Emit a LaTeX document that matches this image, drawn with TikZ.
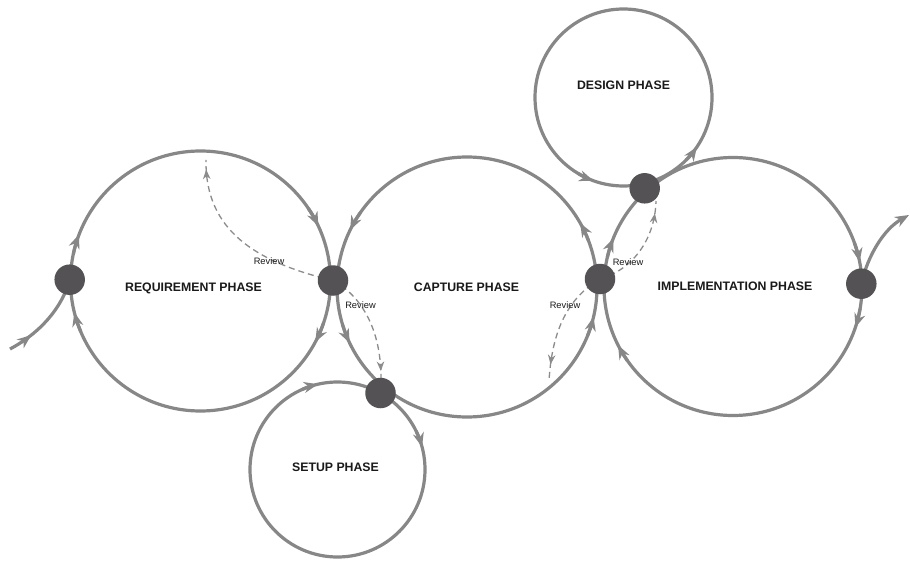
\documentclass[tikz,border=0pt]{standalone}
\usepackage{fontspec}
\setmainfont{Liberation Sans}
\usetikzlibrary{arrows.meta,decorations.markings,backgrounds}
\definecolor{ringgray}{HTML}{878787}
\definecolor{hubgray}{HTML}{545254}
\definecolor{dashgray}{HTML}{8C8C8C}
\definecolor{inkgray}{HTML}{1A1A1A}

\tikzset{
  ring/.style={draw=ringgray, line width=3.2pt},
  flowtip/.style={ring, -{Stealth[length=14pt,width=11pt,inset=4.5pt]}},
  hub/.style={circle, fill=hubgray, minimum size=30.5pt, inner sep=0pt},
  phase/.style={font=\bfseries\fontsize{12.3pt}{14pt}\selectfont, text=inkgray, inner sep=0pt},
  review/.style={draw=dashgray, line width=1.3pt, dash pattern=on 6pt off 4pt},
  revmark/.style={postaction=decorate, decoration={markings,
      mark=at position #1 with {\arrow{Stealth[length=9.5pt,width=7.5pt,inset=3pt]}}}},
  flowmark/.style={postaction=decorate, decoration={markings,
      mark=at position #1 with {\arrow{Stealth[length=14pt,width=11pt,inset=4.5pt]}}}},
  revlabel/.style={font=\fontsize{9.3pt}{11pt}\selectfont, text=inkgray, inner sep=0pt}
}
% short arc along a ring ending in a direction arrow: centre, radius, from angle, to angle
\newcommand\flowarc[4]{\draw[flowtip] ([shift={(#3:#2)}]#1) arc[start angle=#3, end angle=#4, radius=#2];}

\begin{document}
\begin{tikzpicture}[x=1pt,y=-1pt]
\useasboundingbox (0,0) rectangle (910,564);

% ring centres
\coordinate (cReq) at (200.5,281);
\coordinate (cCap) at (467,287);
\coordinate (cImp) at (733,286.5);
\coordinate (cDes) at (623.5,97.5);
\coordinate (cSet) at (337.5,469.5);

% junction hubs
\node[hub] (h1) at (69.7,279.7) {};
\node[hub] (h2) at (333,280.5) {};
\node[hub] (h3) at (380.5,393) {};
\node[hub] (h4) at (600,279) {};
\node[hub] (h5) at (644.7,188.3) {};
\node[hub] (h6) at (861.3,283.7) {};

% free ends
\coordinate (inStart) at (10,349);
\coordinate (outEnd) at (909,215);
\coordinate (rv1) at (206,160);
\coordinate (rv3) at (549,381);
\coordinate (rv4) at (656,201);

\begin{pgfonlayer}{background}
  \fill[white] (0,0) rectangle (910,564);

  % phase rings
  \draw[ring] (cReq) circle[radius=130];
  \draw[ring] (cCap) circle[radius=130];
  \draw[ring] (cImp) circle[radius=129];
  \draw[ring] (cDes) circle[radius=88.5];
  \draw[ring] (cSet) circle[radius=87.5];

  % flow direction on the rings
  \flowarc{cReq}{130}{192}{201}
  \flowarc{cReq}{130}{326}{335}
  \flowarc{cReq}{130}{19}{28}
  \flowarc{cReq}{130}{157}{166}

  \flowarc{cCap}{130}{215}{206}
  \flowarc{cCap}{130}{163}{154.5}
  \flowarc{cCap}{130}{22}{13.3}
  \flowarc{cCap}{130}{339}{330.5}

  \flowarc{cImp}{129}{193}{202}
  \flowarc{cImp}{129}{145}{153}
  \flowarc{cImp}{129}{340}{349}
  \flowarc{cImp}{129}{10}{18.5}

  \flowarc{cDes}{88.5}{121}{110}
  \flowarc{cDes}{88.5}{45}{34}

  \flowarc{cSet}{87.5}{246}{257}
  \flowarc{cSet}{87.5}{334}{345}

  % entry and exit
  \draw[ring, flowmark=0.27] (inStart) .. controls (40,333) and (62,308) .. (h1.center);
  \draw[flowtip] (h6.center) .. controls (868,255) and (884,229) .. (outEnd);

  % review loops
  \draw[review, revmark=0.95] (h2.center) .. controls (255,262) and (205,230) .. (rv1);
  \draw[review, revmark=0.83] (h2.center) .. controls (360,295) and (385,330) .. (h3.center);
  \draw[review, revmark=0.86] (h4.center) .. controls (568,298) and (552,330) .. (rv3);
  \draw[review, revmark=0.88] (h4.center) .. controls (632,270) and (655,240) .. (rv4);
\end{pgfonlayer}

% phase names
\node[phase] (tReq) at (193.5,288.5) {REQUIREMENT PHASE};
\node[phase] (tCap) at (466.5,287.5) {CAPTURE PHASE};
\node[phase] (tImp) at (735,286.7) {IMPLEMENTATION PHASE};
\node[phase] (tDes) at (623.5,85.5) {DESIGN PHASE};
\node[phase] (tSet) at (335.5,467.5) {SETUP PHASE};

% review labels
\node[revlabel] (lr1) at (269,261.5) {Review};
\node[revlabel] (lr2) at (360.5,305) {Review};
\node[revlabel] (lr3) at (565,305.5) {Review};
\node[revlabel] (lr4) at (628,262.5) {Review};
\end{tikzpicture}
\end{document}
